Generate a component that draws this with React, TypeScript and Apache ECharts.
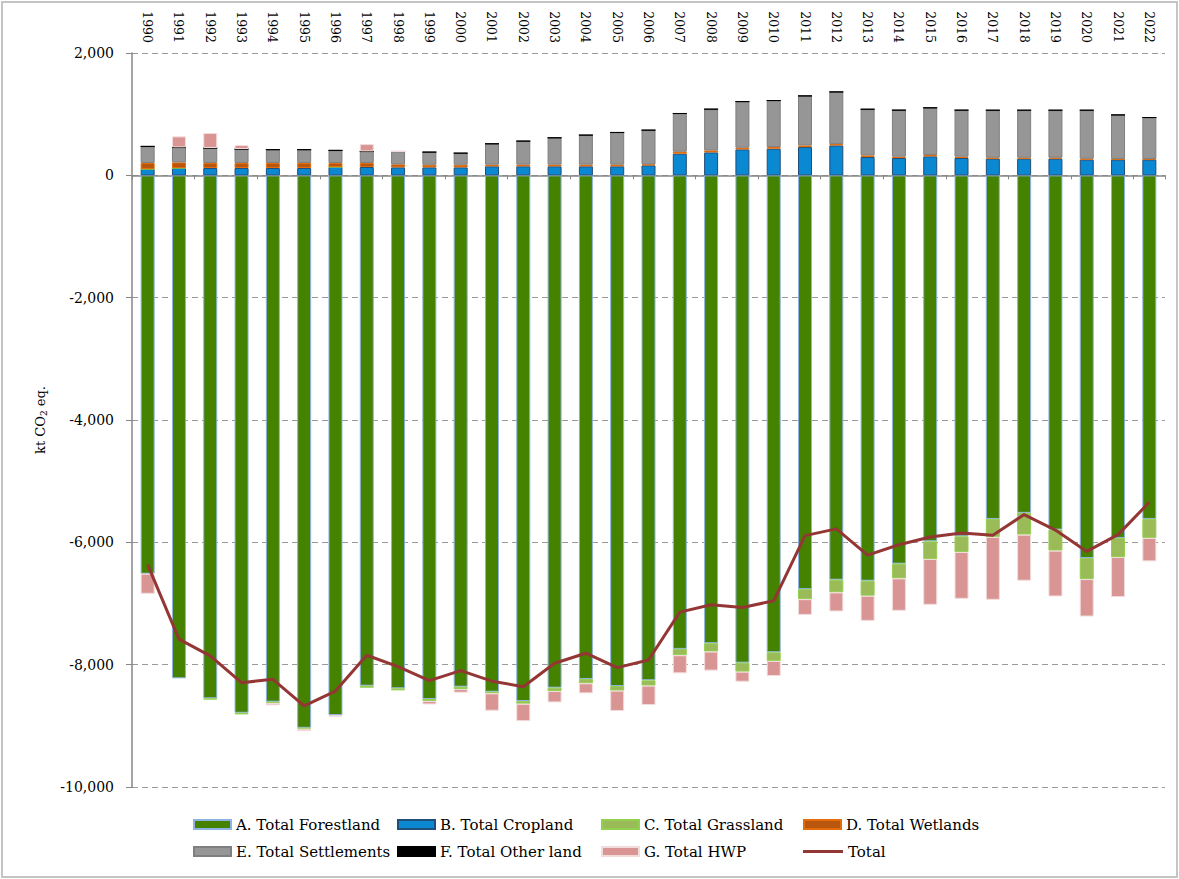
import React, { useEffect, useRef } from "react";
import * as echarts from "echarts";

const years = ["1990","1991","1992","1993","1994","1995","1996","1997","1998","1999","2000","2001","2002","2003","2004","2005","2006","2007","2008","2009","2010","2011","2012","2013","2014","2015","2016","2017","2018","2019","2020","2021","2022"];

const forestland = [-6513, -8223, -8551, -8786, -8606, -9032, -8824, -8344, -8387, -8562, -8360, -8442, -8595, -8376, -8234, -8349, -8256, -7742, -7649, -7967, -7797, -6765, -6611, -6628, -6349, -5984, -5902, -5617, -5518, -5792, -6257, -5928, -5617];
const cropland = [103, 120, 120, 120, 120, 120, 136, 136, 130, 130, 130, 147, 147, 147, 147, 147, 163, 353, 375, 424, 435, 462, 489, 299, 283, 310, 283, 272, 272, 272, 256, 256, 256];
const grassland = [0, 0, -20, -27, -20, -16, 0, -33, -33, -33, -38, -27, -44, -55, -71, -76, -87, -104, -137, -148, -142, -164, -208, -246, -241, -288, -256, -295, -356, -344, -344, -312, -311];
const wetlands = [98, 92, 82, 82, 82, 82, 65, 65, 50, 43, 43, 27, 27, 27, 27, 27, 16, 33, 33, 27, 27, 27, 22, 27, 22, 22, 22, 16, 16, 16, 16, 10, 10];
const settlements = [272, 245, 245, 228, 218, 218, 207, 190, 210, 207, 190, 342, 386, 440, 484, 527, 560, 625, 674, 755, 761, 810, 853, 755, 761, 772, 761, 777, 777, 777, 793, 722, 679];
const otherLand = [0, 0, 0, 0, 0, 0, 0, 0, 0, 0, 0, 0, 0, 0, 0, 0, 0, 0, 0, 0, 0, 0, 0, 0, 0, 0, 0, 0, 0, 0, 0, 0, 0];
const hwp = [-328, 180, 245, 65, -38, -38, -27, 120, 0, -55, -60, -284, -284, -186, -164, -333, -317, -295, -311, -164, -246, -257, -311, -410, -529, -749, -765, -1027, -754, -749, -612, -655, -383];
const total = [-6365, -7583, -7857, -8295, -8239, -8672, -8431, -7846, -8032, -8262, -8098, -8270, -8360, -7977, -7813, -8048, -7923, -7141, -7021, -7065, -6956, -5890, -5780, -6210, -6040, -5912, -5846, -5885, -5546, -5800, -6148, -5874, -5344];

const yTicks = { min: -10000, max: 2000, interval: 2000 };

const FONT = "DejaVu Serif";

const barDefs = [
  { name: "A. Total Forestland", data: forestland, fill: "#458200", border: "#8db3e2" },
  { name: "B. Total Cropland", data: cropland, fill: "#0a88d2", border: "#1f4e79" },
  { name: "C. Total Grassland", data: grassland, fill: "#9bbb59", border: "#92d050" },
  { name: "D. Total Wetlands", data: wetlands, fill: "#b8560d", border: "#e46c0a" },
  { name: "E. Total Settlements", data: settlements, fill: "#969696", border: "#7f7f7f" },
  { name: "F. Total Other land", data: otherLand, fill: "#000000", border: "#000000" },
  { name: "G. Total HWP", data: hwp, fill: "#d99594", border: "#f2dcdb" },
];

const legendPos = [
  { name: "A. Total Forestland", left: 193, top: 817 },
  { name: "B. Total Cropland", left: 397, top: 817 },
  { name: "C. Total Grassland", left: 601, top: 817 },
  { name: "D. Total Wetlands", left: 803, top: 817 },
  { name: "E. Total Settlements", left: 193, top: 844 },
  { name: "F. Total Other land", left: 397, top: 844 },
  { name: "G. Total HWP", left: 601, top: 844 },
  { name: "Total", left: 803, top: 844 },
];

export default function App() {
  const ref = useRef<HTMLDivElement>(null);
  useEffect(() => {
    if (!ref.current) return;
    const chart = echarts.init(ref.current, undefined, { renderer: "svg" });
    const series: any[] = barDefs.map((b) => ({
      name: b.name,
      type: "bar",
      stack: "s",
      barWidth: 14,
      data: b.data,
      itemStyle: { color: b.fill, borderColor: b.border, borderWidth: 1 },
    }));
    series.push({
      name: "Total",
      type: "line",
      data: total,
      symbol: "none",
      z: 5,
      lineStyle: { color: "#943634", width: 3 },
      itemStyle: { color: "#943634" },
    });
    chart.setOption({
      animation: false,
      backgroundColor: "#ffffff",
      grid: { left: 132, right: 14, top: 53, bottom: 92 },
      legend: legendPos.map((l) => {
        const isLine = l.name === "Total";
        return {
          data: [l.name],
          left: l.left,
          top: l.top,
          padding: 0,
          icon: "rect",
          itemWidth: isLine ? 40 : 37,
          itemHeight: isLine ? 3 : 9,
          selectedMode: false,
          textStyle: { fontFamily: FONT, fontSize: 15, color: "#000000" },
        };
      }),
      xAxis: [
        {
          type: "category",
          data: years,
          position: "bottom",
          axisLine: { onZero: true, lineStyle: { color: "#868686", width: 1.5 } },
          axisTick: { show: true, length: 4, lineStyle: { color: "#868686" } },
          axisLabel: { show: false },
        },
        {
          type: "category",
          data: years,
          position: "top",
          axisLine: { show: false },
          axisTick: { show: false },
          axisLabel: { rotate: 90, margin: 10, fontFamily: FONT, fontSize: 12.5, color: "#000000" },
        },
      ],
      yAxis: {
        type: "value",
        min: yTicks.min,
        max: yTicks.max,
        interval: yTicks.interval,
        name: "kt CO{sub|2} eq.",
        nameLocation: "middle",
        nameGap: 84,
        nameTextStyle: {
          fontFamily: FONT,
          fontSize: 13,
          color: "#000000",
          rich: { sub: { fontFamily: FONT, fontSize: 9, color: "#000000", padding: [6, 0, 0, 0] } },
        },
        axisLine: { show: true, lineStyle: { color: "#868686", width: 1.5 } },
        axisTick: { show: true, length: 6, lineStyle: { color: "#868686" } },
        axisLabel: {
          margin: 18,
          fontFamily: FONT,
          fontSize: 14,
          color: "#000000",
          formatter: (v: number) => v.toLocaleString("en-US"),
        },
        splitLine: { show: true, lineStyle: { color: "#9a9a9a", type: [6, 4], width: 1 } },
      },
      graphic: [
        {
          type: "rect",
          shape: { x: 2, y: 2, width: 1175, height: 875 },
          style: { fill: "none", stroke: "#c4c4c4", lineWidth: 2 },
          silent: true,
        },
      ],
      series,
    });
    return () => chart.dispose();
  }, []);
  return (
    <div
      ref={ref}
      style={{ position: "fixed", left: 0, top: 0, width: 1179, height: 879, background: "#fff" }}
    />
  );
}
